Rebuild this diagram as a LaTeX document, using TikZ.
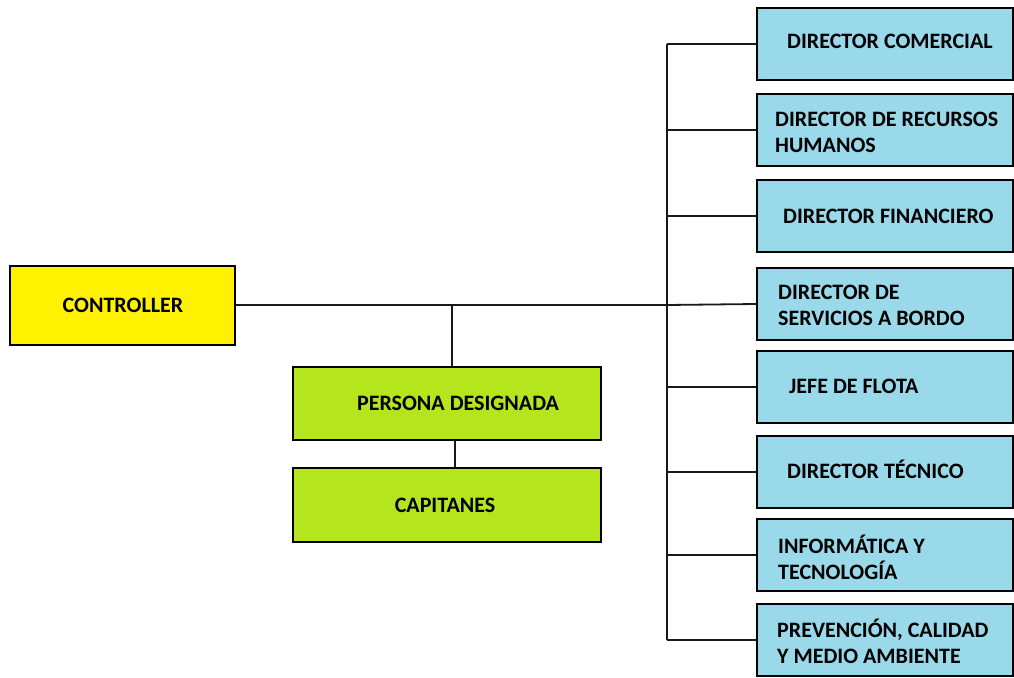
\documentclass[tikz,border=0pt]{standalone}
\usepackage{fontspec}
\setmainfont{Carlito}
\begin{document}
\begin{tikzpicture}[x=1pt,y=-1pt,
  box/.style={draw=black, line width=2pt, minimum height=72pt, inner sep=0pt},
  bluebox/.style={box, fill=lblue, minimum width=256pt},
  greenbox/.style={box, fill=lgreen, minimum width=308pt, minimum height=73pt},
  lab/.style={anchor=west, align=left, inner sep=0pt, font=\bfseries\fontsize{22}{26}\selectfont},
  clab/.style={inner sep=0pt, font=\bfseries\fontsize{22}{26}\selectfont},
  conn/.style={line width=1.8pt, draw=black!90}]
\definecolor{lblue}{RGB}{153,217,234}
\definecolor{lyellow}{RGB}{255,242,0}
\definecolor{lgreen}{RGB}{181,230,29}
\useasboundingbox (0,0) rectangle (1014,677);

% controller
\node[box, fill=lyellow, minimum width=225pt, minimum height=79pt] (ctrl) at (122.5,305) {};
\node[clab] (tctrl) at (123,305) {CONTROLLER};

% right column
\node[bluebox] (b1) at (885,44) {};
\node[bluebox] (b2) at (885,130) {};
\node[bluebox] (b3) at (885,216) {};
\node[bluebox] (b4) at (885,304) {};
\node[bluebox] (b5) at (885,387) {};
\node[bluebox] (b6) at (885,472) {};
\node[bluebox] (b7) at (885,555) {};
\node[bluebox] (b8) at (885,640) {};

\node[lab] (t1) at (787,41) {DIRECTOR COMERCIAL};
\node[lab] (t2) at (775,132) {DIRECTOR DE RECURSOS\\HUMANOS};
\node[lab] (t3) at (783,216) {DIRECTOR FINANCIERO};
\node[lab] (t4) at (778,305) {DIRECTOR DE\\SERVICIOS A BORDO};
\node[lab] (t5) at (789,386) {JEFE DE FLOTA};
\node[lab] (t6) at (787,469) {DIRECTOR TÉCNICO};
\node[lab] (t7) at (778,557) {INFORMÁTICA Y\\TECNOLOGÍA};
\node[lab] (t8) at (777,641) {PREVENCIÓN, CALIDAD\\Y MEDIO AMBIENTE};

% green boxes
\node[greenbox] (pd) at (447,403.5) {};
\node[clab] (tpd) at (458,403) {PERSONA DESIGNADA};
\node[greenbox, minimum height=74pt] (cap) at (447,505) {};
\node[clab] (tcap) at (445,505) {CAPITANES};

% connectors
\coordinate (bus) at (667,0);
\coordinate (j) at (452,304);
\draw[conn] (ctrl.east) -- (ctrl.east -| bus) -- (b4.west);
\draw[conn] (b1.west -| bus) -- (b8.west -| bus);
\foreach \b in {b1,b2,b3,b5,b6,b7,b8}
  \draw[conn] (\b.west -| bus) -- (\b.west);
\draw[conn] (j) -- (j |- pd.north);
\draw[conn] ([xshift=8pt]pd.south) -- ([xshift=8pt]cap.north);
\end{tikzpicture}
\end{document}
